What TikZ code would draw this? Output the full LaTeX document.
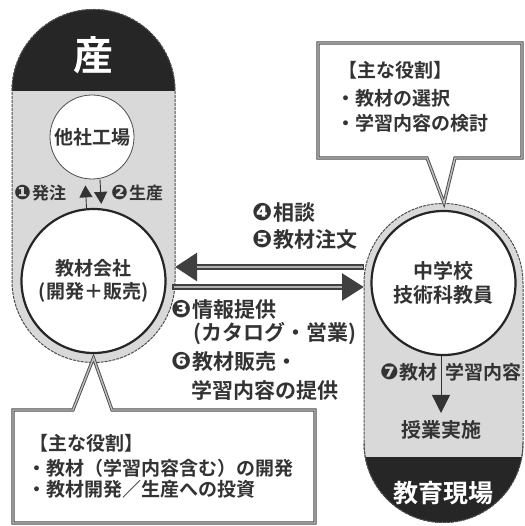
\documentclass[tikz,border=0pt]{standalone}
\usepackage{fontspec}
\setmainfont{Noto Sans CJK JP}[BoldFont={Noto Sans CJK JP Bold}]
\newfontfamily\dv{DejaVu Sans}
\usetikzlibrary{arrows.meta}
\tikzset{
  fs/.style={font=\fontsize{#1}{\dimexpr#1pt*6/5\relax}\selectfont\bfseries},
  txt/.style={text=black!80, inner sep=0pt},
  capsule/.style={fill=black!15, draw=black!70, line width=1pt, dash pattern=on 3pt off 1pt},
  bigc/.style={circle, fill=white, draw=black!85, line width=2.2pt, minimum size=144pt, inner sep=0pt, align=center, text=black!80},
  smallc/.style={circle, fill=white, draw=black!70, line width=0.8pt, minimum size=84pt, inner sep=0pt, text=black!80},
  callout/.style={fill=white, draw=black!70, double=black!25, double distance=1.4pt, line width=0.9pt, line join=miter},
  wideshaft/.style={line width=6pt, draw=black!75},
  innershaft/.style={line width=2.6pt, draw=black!30},
  darkcap/.style={fill=black!85},
  captext/.style={text=white, inner sep=0pt},
}
\newcommand{\cn}[2]{{\dv\fontsize{#1}{#1}\selectfont #2}\hspace{1pt}}
\begin{document}
\begin{tikzpicture}[x=1pt,y=1pt]
\useasboundingbox (0,0) rectangle (524,526);

% ---- left capsule (産) ----
\path[capsule] (12,435) arc[start angle=180,end angle=0,radius=81.5] -- (175,245)
  arc[start angle=0,end angle=-180,radius=81.5] -- cycle;
\begin{scope}
  \clip (12,435) arc[start angle=180,end angle=0,radius=81.5] -- cycle;
  \fill[darkcap] (10,435) rectangle (177,530);
\end{scope}
\draw[black!70, line width=1pt, dash pattern=on 3pt off 1pt] (12,435) arc[start angle=180,end angle=0,radius=81.5];
\node[captext, fs=40] (san) at (93.5,471) {産};

% ---- right capsule (教育現場) ----
\path[capsule] (364,243) arc[start angle=180,end angle=0,radius=79.5] -- (523,83)
  arc[start angle=0,end angle=-180,radius=79.5] -- cycle;
\begin{scope}
  \clip (364,83) arc[start angle=180,end angle=360,radius=79.5] -- cycle;
  \fill[darkcap] (360,0) rectangle (527,69);
\end{scope}
\draw[black!70, line width=1pt, dash pattern=on 3pt off 1pt] (364,83) arc[start angle=180,end angle=360,radius=79.5];
\node[captext, fs=25] (genba) at (443.5,33) {教育現場};

% ---- circles ----
\node[smallc, fs=19] (factory) at (92,389) {他社工場};
\node[bigc, fs=19] (company) at (93.5,245) {教材会社\\(開発＋販売)};
\node[bigc, fs=20] (teacher) at (443.5,243) {中学校\\技術科教員};

% ---- factory <-> company arrows ----
\draw[black!80, line width=0.9pt, -{Triangle[length=12pt,width=13pt]}, shorten >=6pt]
  ([xshift=-7pt]company.north) -- ([xshift=-7pt]factory.south);
\draw[black!80, line width=0.9pt, -{Triangle[length=12pt,width=13pt]}, shorten >=4pt, shorten <=0pt]
  ([xshift=8pt]factory.south) -- ([xshift=8pt]company.north);
\node[txt, fs=17, anchor=west] (l1) at (14,333) {\cn{20}{❶}発注};
\node[txt, fs=17, anchor=west] (l2) at (111,333) {\cn{20}{❷}生産};

% ---- horizontal arrows ----
\coordinate (Lr1) at (175,259);
\coordinate (Rl1) at (364,259);
\coordinate (Lr2) at (172,239);
\coordinate (Rl2) at (364,239);
\draw[wideshaft, -{Triangle[length=22pt,width=27pt]}] (Rl1) -- (Lr1);
\draw[innershaft, shorten >=22pt, shorten <=1.5pt] (Rl1) -- (Lr1);
\draw[wideshaft, -{Triangle[length=22pt,width=26pt]}] (Lr2) -- (Rl2);
\draw[innershaft, shorten >=22pt, shorten <=1.5pt] (Lr2) -- (Rl2);

\node[txt, fs=21, anchor=west] (l4) at (252,313) {\cn{24}{❹}相談};
\node[txt, fs=21, anchor=west] (l5) at (252,286) {\cn{24}{❺}教材注文};
\node[txt, fs=21, anchor=west] (l3) at (171,216) {\cn{24}{❸}情報提供};
\node[txt, fs=21, anchor=west] (l3b) at (193,192) {(カタログ・営業)};
\node[txt, fs=21, anchor=west] (l6) at (171,164) {\cn{24}{❻}教材販売・};
\node[txt, fs=21, anchor=west] (l6b) at (191,136) {学習内容の提供};

% ---- inside right capsule ----
\coordinate (arrtip) at (441,113);
\draw[black!80, line width=0.8pt, -{Triangle[length=18pt,width=18pt]}] (teacher.south -| arrtip) -- (arrtip);
\node[txt, fs=19, anchor=east] (l7) at (438,154) {\cn{22}{❼}教材};
\node[txt, fs=19, anchor=west] (l7b) at (445,154) {学習内容};
\node[txt, fs=20] (jugyo) at (441,96) {授業実施};

% ---- callouts ----
\path[callout] (318,483) -- (522,483) -- (522,368) -- (455,368) -- (444,323) -- (427,368) -- (318,368) -- cycle;
\node[txt, fs=19, anchor=west] (c1) at (338,456) {【主な役割】};
\node[txt, fs=19, anchor=west] (c2) at (336,428) {・教材の選択};
\node[txt, fs=19, anchor=west] (c3) at (336,403) {・学習内容の検討};

\path[callout] (13,116) -- (73,116) -- (93.5,168) -- (112,116) -- (315,116) -- (315,3) -- (13,3) -- cycle;
\node[txt, fs=19, anchor=west] (d1) at (29,83) {【主な役割】};
\node[txt, fs=19, anchor=west] (d2) at (27,58) {・教材（学習内容含む）の開発};
\node[txt, fs=19, anchor=west] (d3) at (27,37) {・教材開発／生産への投資};
\end{tikzpicture}
\end{document}
